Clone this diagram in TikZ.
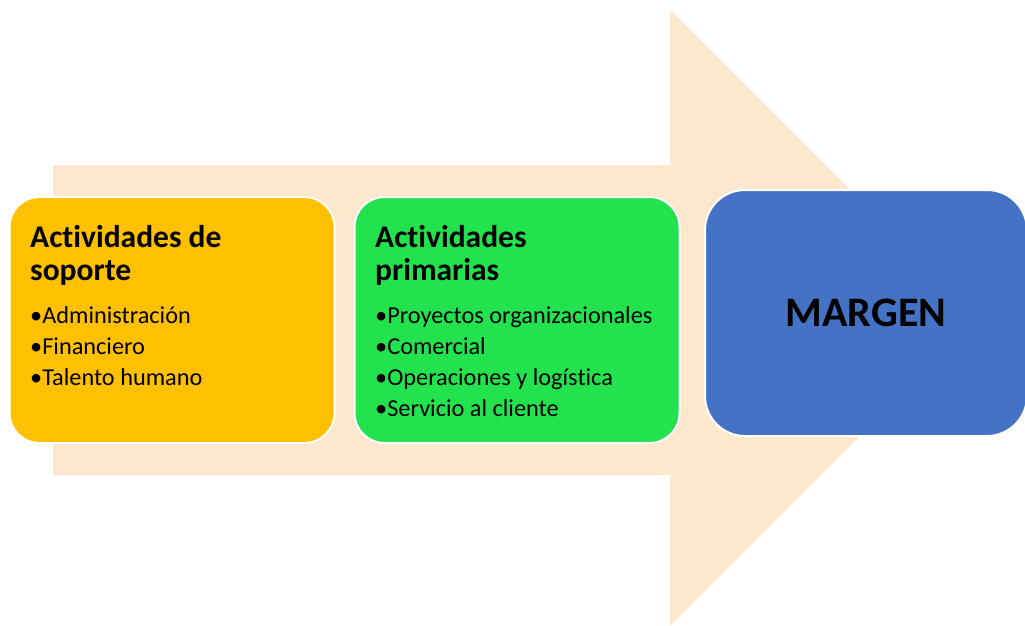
\documentclass[tikz,border=0pt]{standalone}
\usepackage{fontspec}
\setmainfont{Carlito}[Ligatures=NoCommon]
\usetikzlibrary{positioning}

\definecolor{flecha}{HTML}{FDE7CD}
\definecolor{naranja}{HTML}{FFC000}
\definecolor{verde}{HTML}{22E34E}
\definecolor{azul}{HTML}{4472C4}

\tikzset{
  caja/.style={draw=white, line width=2pt, rounded corners=30pt, minimum width=325pt, minimum height=246pt},
  titulo/.style={font=\fontsize{31.5}{33}\selectfont\bfseries, align=left, anchor=north west, inner sep=0pt},
  lista/.style={font=\fontsize{24.3}{31}\selectfont, align=left, anchor=north west, inner sep=0pt}
}

\begin{document}
\begin{tikzpicture}[x=1pt,y=-1pt]
\useasboundingbox (0,0) rectangle (1025,625);

% Flecha de fondo
\fill[flecha] (53,165) -- (670,165) -- (670,10) -- (978,318) -- (670,626) -- (670,475) -- (53,475) -- cycle;

% Cajas
\node[caja, fill=naranja] (soporte) at (172,320) {};
\node[caja, fill=verde] (primarias) at (517,320) {};
\node[caja, fill=azul, minimum width=322pt, rounded corners=40pt] (margen) at (866,313) {};

% Primera caja
\node[titulo] (tsoporte) at (30,225) {Actividades de\\soporte};
\node[lista] (lsoporte) at (30,306) {•Administración\\•Financiero\\•Talento humano};

% Segunda caja
\node[titulo] (tprimarias) at (375,225) {Actividades\\primarias};
\node[lista] (lprimarias) at (375,306) {•Proyectos organizacionales\\•Comercial\\•Operaciones y logística\\•Servicio al cliente};

% Tercera caja
\node[font=\fontsize{42}{48}\selectfont\bfseries] (tmargen) at (margen) {MARGEN};
\end{tikzpicture}
\end{document}
